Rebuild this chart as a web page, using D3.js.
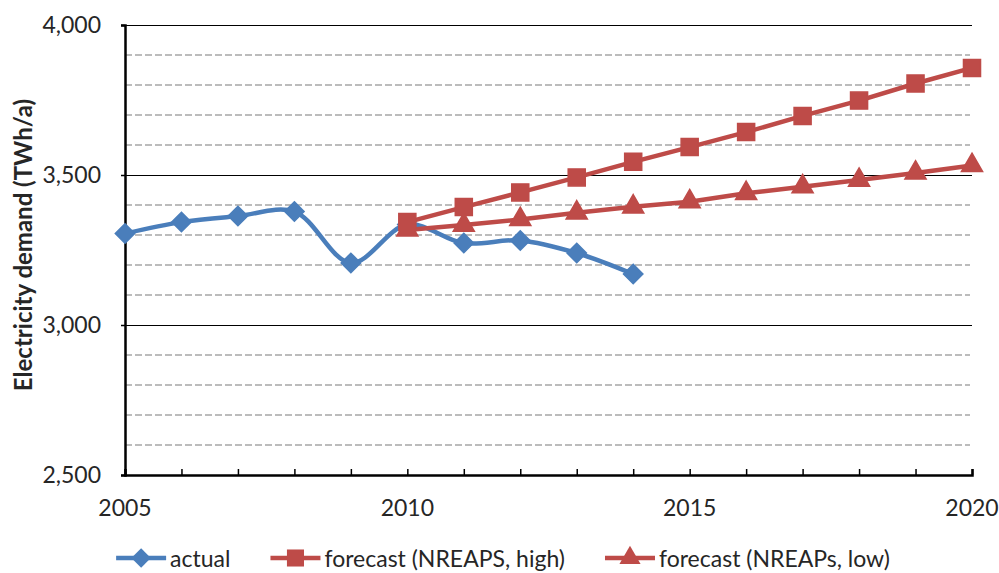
<!DOCTYPE html>
<html>
<head>
<meta charset="utf-8">
<script src="https://cdn.jsdelivr.net/npm/d3@7"></script>
<style>
    body { margin: 0; background: #fff; }
    text { font-family: Lato, "Liberation Sans", Arial, sans-serif; fill: #262626; }
</style>
</head>
<body>
<div id="chart"></div>
<script>
// Data
const years = [2005, 2006, 2007, 2008, 2009, 2010, 2011, 2012, 2013, 2014, 2015, 2016, 2017, 2018, 2019, 2020];
const actualYears = [2005, 2006, 2007, 2008, 2009, 2010, 2011, 2012, 2013, 2014];
const actual = [3305, 3343, 3363, 3378, 3207, 3335, 3273, 3282, 3240, 3170];
const forecastYears = [2010, 2011, 2012, 2013, 2014, 2015, 2016, 2017, 2018, 2019, 2020];
const forecastHigh = [3343, 3393, 3442, 3492, 3544, 3593, 3643, 3697, 3748, 3805, 3857];
const forecastLow = [3317, 3333, 3352, 3374, 3394, 3411, 3439, 3461, 3483, 3507, 3532];
const xTicks = [2005, 2010, 2015, 2020];
const yMajor = [2500, 3000, 3500, 4000];
const yMinor = [2600, 2700, 2800, 2900, 3100, 3200, 3300, 3400, 3600, 3700, 3800, 3900];
const seriesNames = ["actual", "forecast (NREAPS, high)", "forecast (NREAPs, low)"];

const COLORS = { blue: "#4a7ebb", red: "#be4b48", grid: "#a6a6a6" };

const W = 999, H = 573;
const svg = d3.select("#chart").append("svg")
    .attr("width", W).attr("height", H);

const x = d3.scaleLinear().domain([2005, 2020]).range([125, 972]);
const y = d3.scaleLinear().domain([2500, 4000]).range([475, 25]);
const fmt = d3.format(",");

// minor gridlines (dashed)
svg.append("g").selectAll("line")
    .data(yMinor)
    .join("line")
    .attr("x1", x(2005)).attr("x2", x(2020) - 2)
    .attr("y1", d => y(d)).attr("y2", d => y(d))
    .attr("stroke", COLORS.grid)
    .attr("stroke-width", 1.5)
    .attr("stroke-dasharray", "7,3");

// major gridlines
svg.append("g").selectAll("line")
    .data(yMajor.slice(1))
    .join("line")
    .attr("x1", x(2005)).attr("x2", x(2020))
    .attr("y1", d => y(d) + 0.5).attr("y2", d => y(d) + 0.5)
    .attr("stroke", "#000")
    .attr("stroke-width", 1.2);

// y axis
const yAxis = svg.append("g")
    .attr("transform", `translate(${x(2005)},0)`)
    .call(d3.axisLeft(y).tickValues(yMajor).tickSize(4).tickPadding(20).tickFormat(fmt));
yAxis.select(".domain").attr("stroke", "#000").attr("stroke-width", 2.5);
yAxis.selectAll(".tick line").attr("stroke", "#000").attr("stroke-width", 1.5);
yAxis.selectAll("text").style("font-size", "23px").attr("fill", "#262626");

// x axis: yearly ticks pointing inward, labels every 5 years
const xAxis = svg.append("g")
    .attr("transform", `translate(0,${y(2500)})`)
    .call(d3.axisBottom(x).tickValues(years).tickSize(-6).tickSizeOuter(-6).tickFormat(""));
xAxis.select(".domain").attr("stroke", "#000").attr("stroke-width", 2.5);
xAxis.selectAll(".tick line").attr("stroke", "#000").attr("stroke-width", 1.5);

svg.append("g").selectAll("text")
    .data(xTicks)
    .join("text")
    .attr("x", d => x(d))
    .attr("y", 507)
    .attr("text-anchor", "middle")
    .attr("dominant-baseline", "central")
    .style("font-size", "23px")
    .text(d => d);

// y axis title
svg.append("text")
    .attr("transform", `translate(22,245) rotate(-90)`)
    .attr("text-anchor", "middle")
    .attr("dominant-baseline", "central")
    .style("font-size", "24px")
    .style("font-weight", "bold")
    .attr("fill", "#000")
    .text("Electricity demand (TWh/a)");

// markers
const diamond = d3.symbol().type(d3.symbolDiamond2).size(240);
const square = d3.symbol().type(d3.symbolSquare2).size(370);
const triangle = d3.symbol().type(d3.symbolTriangle2).size(320);

function drawSeries(xs, vals, color, sym, curve) {
    const pts = xs.map((d, i) => [d, vals[i]]);
    const line = d3.line().x(d => x(d[0])).y(d => y(d[1])).curve(curve);
    svg.append("path")
        .attr("d", line(pts))
        .attr("fill", "none")
        .attr("stroke", color)
        .attr("stroke-width", 4.5)
        .attr("stroke-linejoin", "round");
    svg.append("g").selectAll("path")
        .data(pts)
        .join("path")
        .attr("transform", d => `translate(${x(d[0])},${y(d[1])})`)
        .attr("d", sym)
        .attr("fill", color)
        .attr("stroke", color)
        .attr("stroke-width", 1.5);
}

drawSeries(actualYears, actual, COLORS.blue, diamond, d3.curveCatmullRom.alpha(0.5));
drawSeries(forecastYears, forecastLow, COLORS.red, triangle, d3.curveLinear);
drawSeries(forecastYears, forecastHigh, COLORS.red, square, d3.curveLinear);

// legend
const legendItems = [
    { name: seriesNames[0], color: COLORS.blue, sym: diamond },
    { name: seriesNames[1], color: COLORS.red, sym: square },
    { name: seriesNames[2], color: COLORS.red, sym: triangle }
];
const legend = svg.append("g");
const legendY = 558;
let cx = 0;
const groups = legend.selectAll("g")
    .data(legendItems)
    .join("g");
groups.append("line")
    .attr("x1", 0).attr("x2", 50)
    .attr("y1", 0).attr("y2", 0)
    .attr("stroke", d => d.color)
    .attr("stroke-width", 4.5);
groups.append("path")
    .attr("transform", "translate(25,0)")
    .attr("d", d => d.sym())
    .attr("fill", d => d.color);
groups.append("text")
    .attr("x", 54)
    .attr("y", 0)
    .attr("dominant-baseline", "central")
    .style("font-size", "23px")
    .text(d => d.name);
groups.each(function () {
    const g = d3.select(this);
    g.attr("transform", `translate(${cx},${legendY})`);
    cx += 54 + g.select("text").node().getComputedTextLength() + 40;
});
const totalW = cx - 40;
legend.attr("transform", `translate(${503 - totalW / 2},0)`);
</script>
</body>
</html>
